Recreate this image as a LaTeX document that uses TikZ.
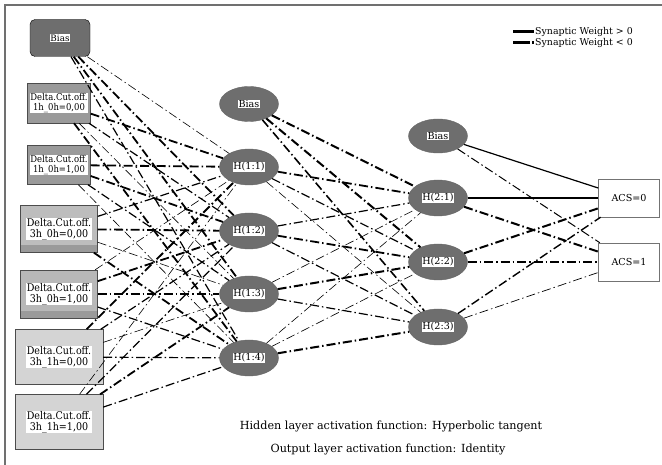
\documentclass[tikz,border=0pt]{standalone}
\usepackage{fontspec}
\setmainfont{DejaVu Serif}
\newfontfamily\condfont{DejaVu Serif Condensed}
\usepackage{tikz}
\usetikzlibrary{shapes.geometric}

\definecolor{unitgray}{HTML}{6E6E6E}
\definecolor{framegray}{HTML}{707070}
\definecolor{boxdark}{HTML}{9A9A9A}
\definecolor{boxmid}{HTML}{BDBDBD}
\definecolor{boxlight}{HTML}{D4D4D4}

\newcommand{\wlbl}[1]{{\setlength{\fboxsep}{0.8pt}\colorbox{white}{#1}}}
\newcommand{\inlbl}[1]{\wlbl{\renewcommand{\arraystretch}{0.78}\begin{tabular}{@{}c@{}}Delta.Cut.off.\\#1\end{tabular}}}

\tikzset{
  poswt/.style={line width=#1pt},
  negwt/.style={line width=#1pt, dash pattern=on 9pt off 3pt on 1.5pt off 3pt},
  inbox/.style 2 args={draw=black!70, fill=#1, rectangle, inner sep=0pt,
    font=\condfont\fontsize{9.4}{10}\selectfont,
    path picture={\fill[#2] (path picture bounding box.south west) rectangle
      ([yshift=7pt]path picture bounding box.south east);}},
  hidunit/.style={draw=black!60, fill=unitgray, ellipse, inner sep=0pt,
    minimum width=59pt, minimum height=36pt, font=\fontsize{9.6}{10}\selectfont},
  outunit/.style={draw=black!55, fill=white, rectangle, inner sep=0pt,
    minimum width=61pt, minimum height=38pt, font=\fontsize{9.6}{10}\selectfont},
}

\begin{document}
\begin{tikzpicture}[x=1pt, y=-1pt]
  \useasboundingbox (0,0) rectangle (662,465);
  \draw[framegray, line width=1.3pt] (5,465) -- (5,5) -- (662,5);

  % input layer
  \node[draw=black, fill=unitgray, rounded corners=5pt, minimum width=60pt, minimum height=37pt,
        font=\fontsize{8.8}{9}\selectfont] (b0) at (60,38) {\wlbl{Bias}};
  \node[inbox={boxdark}{boxdark}, minimum width=63pt, minimum height=40pt] (i1) at (59,103) {\inlbl{1h\_0h=0,00}};
  \node[inbox={boxdark}{boxdark}, minimum width=63pt, minimum height=39pt] (i2) at (59,165) {\inlbl{1h\_0h=1,00}};
  \node[inbox={boxmid}{boxdark}, minimum width=77pt, minimum height=47pt,
        font=\condfont\fontsize{10.6}{11}\selectfont] (i3) at (59,229) {\inlbl{3h\_0h=0,00}};
  \node[inbox={boxmid!85!boxdark}{boxdark}, minimum width=77pt, minimum height=48pt,
        font=\condfont\fontsize{10.6}{11}\selectfont] (i4) at (59,294) {\inlbl{3h\_0h=1,00}};
  \node[inbox={boxlight}{boxlight}, minimum width=88pt, minimum height=55pt,
        font=\condfont\fontsize{10.6}{11}\selectfont] (i5) at (59,357) {\inlbl{3h\_1h=0,00}};
  \node[inbox={boxlight}{boxlight}, minimum width=88pt, minimum height=55pt,
        font=\condfont\fontsize{10.6}{11}\selectfont] (i6) at (59,422) {\inlbl{3h\_1h=1,00}};

  % hidden layers
  \node[hidunit, minimum height=35pt] (hb1) at (249,104) {\wlbl{Bias}};
  \node[hidunit] (h11) at (249,167) {\wlbl{H(1:1)}};
  \node[hidunit] (h12) at (249,231) {\wlbl{H(1:2)}};
  \node[hidunit] (h13) at (249,294) {\wlbl{H(1:3)}};
  \node[hidunit] (h14) at (249,358) {\wlbl{H(1:4)}};

  \node[hidunit, minimum height=34pt] (hb2) at (438,136) {\wlbl{Bias}};
  \node[hidunit] (h21) at (438,198) {\wlbl{H(2:1)}};
  \node[hidunit] (h22) at (438,262) {\wlbl{H(2:2)}};
  \node[hidunit] (h23) at (438,327) {\wlbl{H(2:3)}};

  % output layer
  \node[outunit] (o0) at (629,198) {ACS=0};
  \node[outunit] (o1) at (629,262) {ACS=1};

  % synaptic weights
  \draw
      (b0) edge[negwt=.6]  (h11)  (b0) edge[negwt=1.8] (h12)  (b0) edge[negwt=1.8] (h13)  (b0) edge[negwt=1.2] (h14)
      (i1) edge[negwt=1.8] (h11)  (i1) edge[negwt=1.2] (h12)  (i1) edge[negwt=.6]  (h13)  (i1) edge[negwt=1.8] (h14)
      (i2) edge[negwt=1.8] (h11)  (i2) edge[negwt=1.8] (h12)  (i2) edge[negwt=1.2] (h13)  (i2) edge[negwt=.6]  (h14)
      (i3) edge[negwt=1.2] (h11)  (i3) edge[negwt=1.8] (h12)  (i3) edge[negwt=.6]  (h13)  (i3) edge[negwt=1.8] (h14)
      (i4) edge[negwt=.6]  (h11)  (i4) edge[negwt=1.8] (h12)  (i4) edge[negwt=1.8] (h13)  (i4) edge[negwt=1.2] (h14)
      (i5) edge[negwt=1.8] (h11)  (i5) edge[negwt=1.2] (h12)  (i5) edge[negwt=.6]  (h13)  (i5) edge[negwt=1.2] (h14)
      (i6) edge[negwt=.6]  (h11)  (i6) edge[negwt=1.2] (h12)  (i6) edge[negwt=1.8] (h13)  (i6) edge[negwt=1.2] (h14)
      ;
  \draw
      (hb1) edge[negwt=2]   (h21)  (hb1) edge[negwt=2]   (h22)  (hb1) edge[negwt=1.6] (h23)
      (h11) edge[negwt=1.8] (h21)  (h11) edge[negwt=1.2] (h22)  (h11) edge[negwt=.6]  (h23)
      (h12) edge[negwt=1.2] (h21)  (h12) edge[negwt=1.8] (h22)  (h12) edge[negwt=1.2] (h23)
      (h13) edge[negwt=.6]  (h21)  (h13) edge[negwt=2]   (h22)  (h13) edge[negwt=1.2] (h23)
      (h14) edge[negwt=.6]  (h21)  (h14) edge[negwt=.6]  (h22)  (h14) edge[negwt=2]   (h23)
      ;
  \draw
      (hb2) edge[poswt=1.2] (o0)  (hb2) edge[negwt=1]   (o1)
      (h21) edge[poswt=1.5] (o0)  (h21) edge[negwt=2]   (o1)
      (h22) edge[negwt=2]   (o0)  (h22) edge[negwt=2.2] (o1)
      (h23) edge[negwt=1.4] (o0)  (h23) edge[negwt=.7]  (o1)
      ;

  % legend
  \node[anchor=west, inner sep=0pt, font=\fontsize{9.4}{10}\selectfont] (lgpos) at (535,32) {Synaptic Weight > 0};
  \node[anchor=west, inner sep=0pt, font=\fontsize{9.4}{10}\selectfont] (lgneg) at (535,43) {Synaptic Weight < 0};
  \draw[poswt=3] ([xshift=-22pt]lgpos.west) -- ([xshift=-1pt]lgpos.west);
  \draw[line width=3pt, dash pattern=on 17pt off 2pt on 2pt off 5pt] ([xshift=-22pt]lgneg.west) -- ([xshift=-1pt]lgneg.west);

  % activation functions
  \node[font=\fontsize{11.2}{12}\selectfont] (actH) at (391,426) {Hidden layer activation function: Hyperbolic tangent};
  \node[font=\fontsize{11.2}{12}\selectfont] (actO) at (388,449) {Output layer activation function: Identity};
\end{tikzpicture}
\end{document}
